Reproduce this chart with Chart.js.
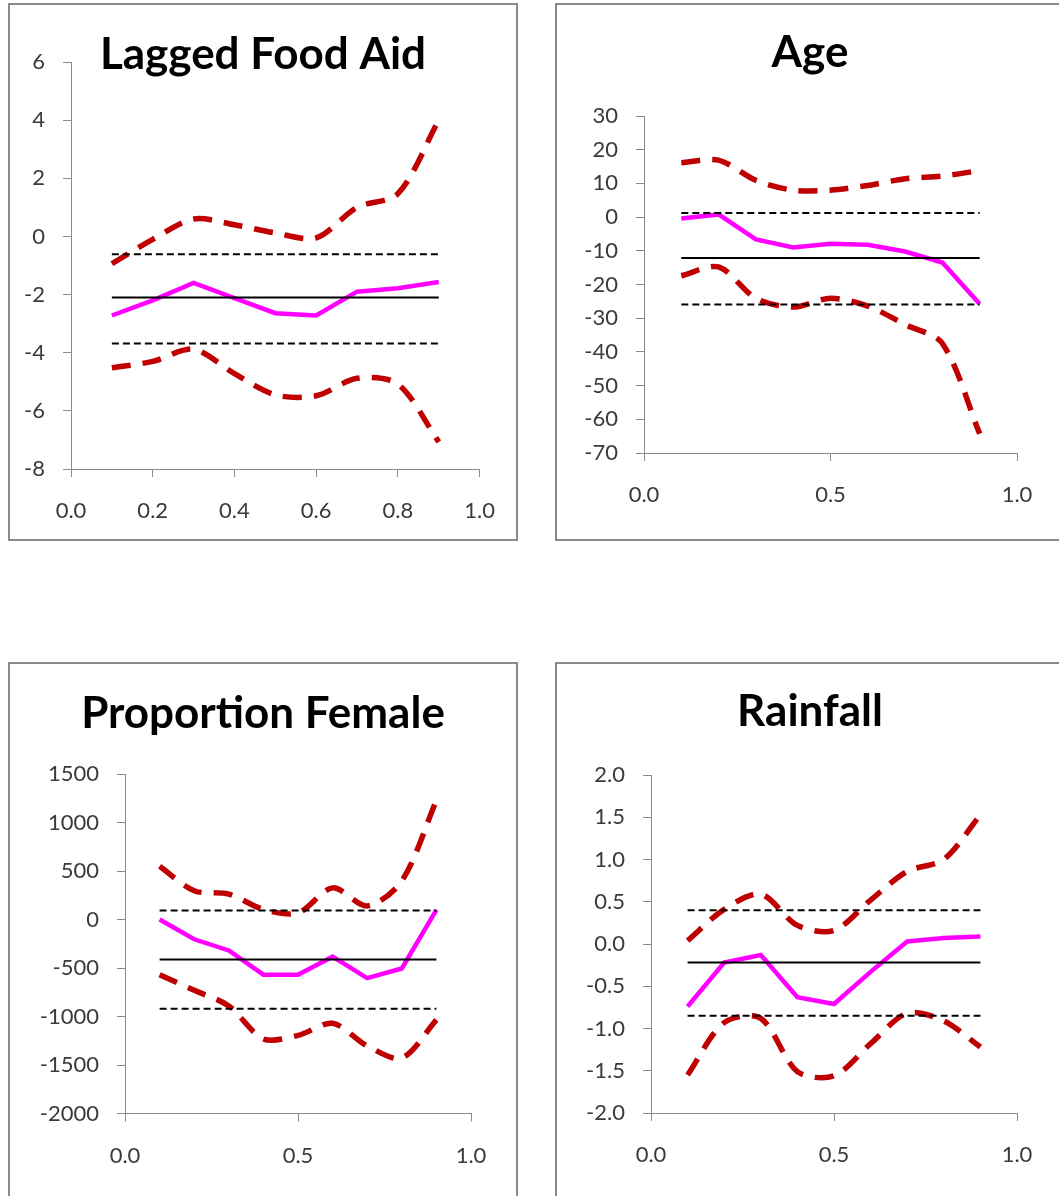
<!DOCTYPE html>
<html lang="en">
<head>
    <meta charset="UTF-8">
    <title>Quantile Regression Coefficients</title>
    <script src="https://cdn.jsdelivr.net/npm/chart.js@4.4.1/dist/chart.umd.min.js"></script>
    <style>
        html, body {
            margin: 0;
            padding: 0;
            background: #fff;
            overflow: hidden;
        }
        body {
            position: relative;
            width: 1059px;
            height: 1196px;
        }
        .panel {
            position: absolute;
            box-sizing: border-box;
            border: 2px solid #8a8a8a;
            background: #fff;
        }
        .panel canvas {
            position: absolute;
            left: 0;
            top: 0;
        }
    </style>
</head>
<body>
    <div class="panel" style="left:8px; top:3px; width:510px; height:538px;">
        <canvas id="foodAidChart" width="506" height="534"></canvas>
    </div>
    <div class="panel" style="left:555px; top:3px; width:510px; height:538px;">
        <canvas id="ageChart" width="506" height="534"></canvas>
    </div>
    <div class="panel" style="left:8px; top:662px; width:510px; height:540px;">
        <canvas id="femaleChart" width="506" height="534"></canvas>
    </div>
    <div class="panel" style="left:555px; top:662px; width:510px; height:540px;">
        <canvas id="rainfallChart" width="506" height="534"></canvas>
    </div>

    <script>
        // Quantiles on the x axis
        const quantiles = [0.1, 0.2, 0.3, 0.4, 0.5, 0.6, 0.7, 0.8, 0.9];

        // Lagged Food Aid
        const foodAidEstimate = [-2.72, -2.2, -1.6, -2.12, -2.64, -2.72, -1.9, -1.78, -1.57];
        const foodAidUpper = [-0.94, -0.1, 0.6, 0.4, 0.12, -0.05, 1.0, 1.47, 4.0];
        const foodAidLower = [-4.52, -4.3, -3.88, -4.72, -5.45, -5.48, -4.88, -5.08, -7.07];
        const foodAidOls = -2.1;
        const foodAidOlsBand = [-0.61, -3.68];
        const foodAidYTicks = [-8, 6, 2];

        // Age
        const ageEstimate = [-0.4, 0.8, -6.6, -9.0, -7.9, -8.2, -10.2, -13.5, -25.8];
        const ageUpper = [16.1, 16.9, 10.9, 8.0, 8.0, 9.4, 11.4, 12.2, 13.8];
        const ageLower = [-17.4, -14.8, -24.1, -26.7, -24.1, -26.4, -31.9, -37.5, -64.3];
        const ageOls = -12.1;
        const ageOlsBand = [1.2, -25.9];
        const ageYTicks = [-70, 30, 10];

        // Proportion Female
        const femaleEstimate = [0, -204, -319, -569, -569, -383, -605, -505, 100];
        const femaleUpper = [548, 297, 261, 104, 68, 326, 140, 397, 1228];
        const femaleLower = [-569, -730, -891, -1231, -1195, -1070, -1303, -1428, -1034];
        const femaleOls = -412;
        const femaleOlsBand = [93, -920];
        const femaleYTicks = [-2000, 1500, 500];

        // Rainfall
        const rainfallEstimate = [-0.74, -0.22, -0.13, -0.63, -0.71, -0.33, 0.03, 0.07, 0.09];
        const rainfallUpper = [0.04, 0.41, 0.59, 0.22, 0.16, 0.52, 0.86, 1.0, 1.53];
        const rainfallLower = [-1.55, -0.93, -0.88, -1.51, -1.56, -1.18, -0.82, -0.91, -1.22];
        const rainfallOls = -0.22;
        const rainfallOlsBand = [0.40, -0.85];
        const rainfallYTicks = [-2, 2, 0.5];

        const RED = '#c00000';
        const MAGENTA = '#ff00ff';
        const AXIS = '#8a8a8a';
        const LABEL = '#3a3a3a';

        // keep the title centred on the whole panel, not on the padded box
        const centreTitle = {
            id: 'centreTitle',
            afterLayout(chart) {
                if (chart.titleBlock) {
                    chart.titleBlock.left = 0;
                    chart.titleBlock.right = chart.width;
                }
            }
        };

        function series(values, color, width, dash, tension) {
            return {
                data: quantiles.map((q, i) => ({ x: q, y: values[i] })),
                borderColor: color,
                borderWidth: width,
                borderDash: dash,
                tension: tension,
                pointRadius: 0,
                fill: false
            };
        }

        function flatLine(value, dashed) {
            return {
                data: [
                    { x: quantiles[0], y: value },
                    { x: quantiles[quantiles.length - 1], y: value }
                ],
                borderColor: '#000',
                borderWidth: 2,
                borderDash: dashed ? [7, 4] : [],
                pointRadius: 0,
                fill: false
            };
        }

        function drawPanel(canvasId, p) {
            new Chart(document.getElementById(canvasId), {
                type: 'line',
                data: {
                    datasets: [
                        flatLine(p.olsBand[0], true),
                        flatLine(p.olsBand[1], true),
                        flatLine(p.ols, false),
                        series(p.upper, RED, 5.5, [19, 12], 0.3),
                        series(p.lower, RED, 5.5, [19, 12], 0.3),
                        series(p.estimate, MAGENTA, 4.5, [], 0)
                    ]
                },
                plugins: [centreTitle],
                options: {
                    responsive: false,
                    animation: false,
                    layout: { padding: { left: 0, top: 0, right: p.padRight, bottom: 0 } },
                    plugins: {
                        legend: { display: false },
                        tooltip: { enabled: false },
                        title: {
                            display: true,
                            text: p.title,
                            color: '#000',
                            font: { family: 'Lato', size: 44, weight: 'bold', lineHeight: '15px' },
                            padding: { top: p.titleTop, bottom: p.titleBottom }
                        }
                    },
                    scales: {
                        x: {
                            type: 'linear',
                            min: 0,
                            max: 1,
                            afterFit: s => { s.height = p.xHeight; },
                            grid: { drawOnChartArea: false, tickLength: 8, color: AXIS },
                            border: { color: AXIS, width: 1 },
                            ticks: {
                                stepSize: p.xStep,
                                padding: 21,
                                color: LABEL,
                                font: { family: 'Lato', size: 22 },
                                callback: v => v.toFixed(1)
                            }
                        },
                        y: {
                            type: 'linear',
                            min: p.yTicks[0],
                            max: p.yTicks[1],
                            afterFit: s => { s.width = p.axisLeft; },
                            grid: { drawOnChartArea: false, tickLength: 8, color: AXIS },
                            border: { color: AXIS, width: 1 },
                            ticks: {
                                stepSize: p.yTicks[2],
                                padding: 18,
                                color: LABEL,
                                font: { family: 'Lato', size: 22 },
                                callback: v => p.yDecimals ? v.toFixed(p.yDecimals) : String(v)
                            }
                        }
                    }
                }
            });
        }

        drawPanel('foodAidChart', {
            title: 'Lagged Food Aid',
            estimate: foodAidEstimate, upper: foodAidUpper, lower: foodAidLower,
            ols: foodAidOls, olsBand: foodAidOlsBand, yTicks: foodAidYTicks, yDecimals: 0,
            xStep: 0.2, titleTop: 42, titleBottom: 0, axisLeft: 61, padRight: 32, xHeight: 70
        });

        drawPanel('ageChart', {
            title: 'Age',
            estimate: ageEstimate, upper: ageUpper, lower: ageLower,
            ols: ageOls, olsBand: ageOlsBand, yTicks: ageYTicks, yDecimals: 0,
            xStep: 0.5, titleTop: 40.5, titleBottom: 55.5, axisLeft: 87, padRight: 46, xHeight: 86
        });

        drawPanel('femaleChart', {
            title: 'Proportion Female',
            estimate: femaleEstimate, upper: femaleUpper, lower: femaleLower,
            ols: femaleOls, olsBand: femaleOlsBand, yTicks: femaleYTicks, yDecimals: 0,
            xStep: 0.5, titleTop: 42, titleBottom: 53, axisLeft: 115, padRight: 45, xHeight: 84.5
        });

        drawPanel('rainfallChart', {
            title: 'Rainfall',
            estimate: rainfallEstimate, upper: rainfallUpper, lower: rainfallLower,
            ols: rainfallOls, olsBand: rainfallOlsBand, yTicks: rainfallYTicks, yDecimals: 1,
            xStep: 0.5, titleTop: 40.5, titleBottom: 55.5, axisLeft: 94, padRight: 46, xHeight: 85
        });
    </script>
</body>
</html>
